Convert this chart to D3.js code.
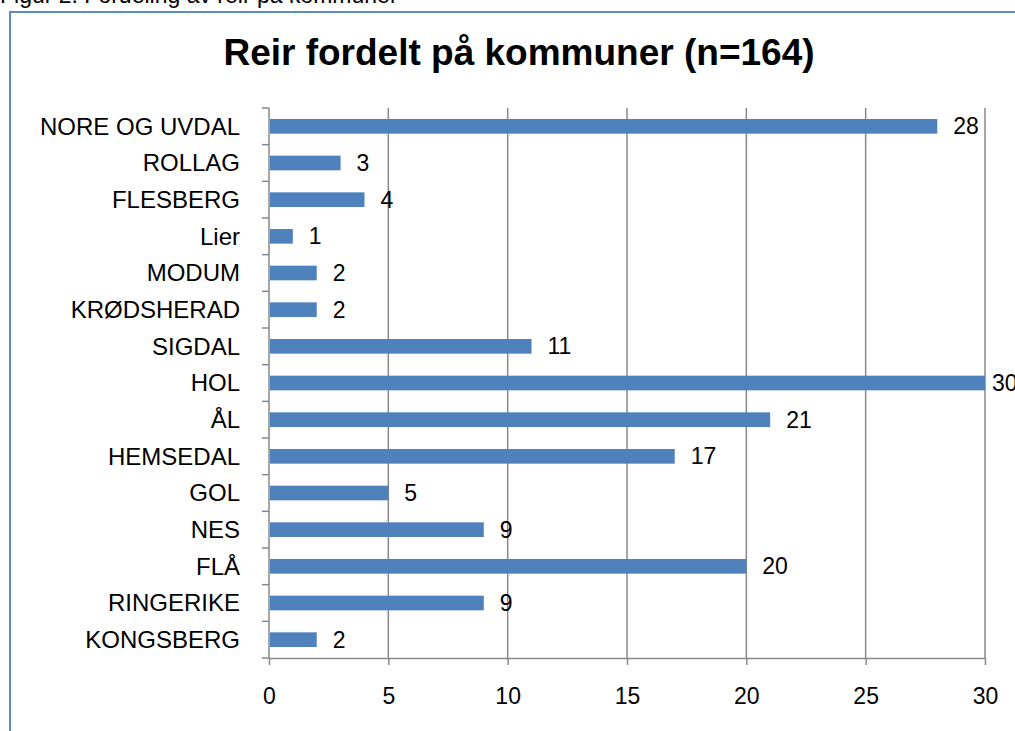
<!DOCTYPE html>
<html>
<head>
<meta charset="utf-8">
<script src="https://cdn.jsdelivr.net/npm/d3@7"></script>
<style>
  body { margin: 0; background: #fff; }
  svg { display: block; font-family: "Liberation Sans", Arial, sans-serif; }
</style>
</head>
<body>
<svg id="svg"></svg>
<script>
/**
 * CONSTANTS AND GLOBALS
 * */
const width = 1015,
  height = 731,
  margin = { top: 108, bottom: 73, left: 269, right: 30 };

const caption = "Figur 2. Fordeling av reir på kommuner";
const title = "Reir fordelt på kommuner (n=164)";

// categories, top to bottom as in the picture
const kommuner = [
  "NORE OG UVDAL", "ROLLAG", "FLESBERG", "Lier", "MODUM", "KRØDSHERAD",
  "SIGDAL", "HOL", "ÅL", "HEMSEDAL", "GOL", "NES", "FLÅ", "RINGERIKE", "KONGSBERG"
];
const antallReir = [28, 3, 4, 1, 2, 2, 11, 30, 21, 17, 5, 9, 20, 9, 2];
const xTicks = [0, 5, 10, 15, 20, 25, 30];

const svg = d3.select("#svg")
  .attr("width", width)
  .attr("height", height);

// caption above the frame (cut off at top in the original)
svg.append("text")
  .attr("x", 0)
  .attr("y", 3)
  .attr("font-size", 23)
  .attr("fill", "#000")
  .text(caption);

// frame
svg.append("rect")
  .attr("x", 10)
  .attr("y", 12)
  .attr("width", 1020)
  .attr("height", 740)
  .attr("fill", "none")
  .attr("stroke", "#5b8bc9")
  .attr("stroke-width", 2);

svg.append("text")
  .attr("x", 519)
  .attr("y", 65)
  .attr("text-anchor", "middle")
  .attr("font-size", 37)
  .attr("font-weight", "bold")
  .text(title);

const xScale = d3.scaleLinear()
  .domain([0, 30])
  .range([margin.left, 985]);

const yScale = d3.scaleBand()
  .domain(kommuner)
  .range([margin.top, height - margin.bottom])
  .paddingInner(0.6)
  .paddingOuter(0.3);

const y0 = height - margin.bottom;
const gridColor = "#888";

// vertical gridlines
svg.append("g")
  .selectAll("line")
  .data(xTicks.slice(1))
  .join("line")
  .attr("x1", d => xScale(d))
  .attr("x2", d => xScale(d))
  .attr("y1", margin.top)
  .attr("y2", y0)
  .attr("stroke", gridColor)
  .attr("stroke-width", 1.5);

// bottom axis
const xAxis = svg.append("g")
  .attr("transform", `translate(0,${y0})`)
  .call(d3.axisBottom(xScale).tickValues(xTicks).tickSize(7).tickSizeOuter(0).tickPadding(23));
xAxis.select(".domain").attr("stroke", gridColor).attr("stroke-width", 1.5);
xAxis.selectAll(".tick line").attr("stroke", gridColor).attr("stroke-width", 1.5);
xAxis.selectAll("text")
  .attr("font-size", 23)
  .attr("font-family", "Liberation Sans, Arial, sans-serif")
  .attr("fill", "#000");

// left axis: line plus ticks at band boundaries
const step = yScale.step();
const bounds = d3.range(kommuner.length + 1).map(i => margin.top + i * step);
svg.append("line")
  .attr("x1", xScale(0)).attr("x2", xScale(0))
  .attr("y1", margin.top).attr("y2", y0)
  .attr("stroke", gridColor).attr("stroke-width", 1.5);
svg.append("g")
  .selectAll("line")
  .data(bounds)
  .join("line")
  .attr("x1", xScale(0) - 7)
  .attr("x2", xScale(0))
  .attr("y1", d => d)
  .attr("y2", d => d)
  .attr("stroke", gridColor)
  .attr("stroke-width", 1.5);

// category labels
svg.append("g")
  .selectAll("text")
  .data(kommuner)
  .join("text")
  .attr("x", 240)
  .attr("y", d => yScale(d) + yScale.bandwidth() / 2)
  .attr("dy", "0.35em")
  .attr("text-anchor", "end")
  .attr("font-size", 24)
  .text(d => d);

// bars
const data = kommuner.map((k, i) => ({ name: k, value: antallReir[i] }));

svg.append("g")
  .selectAll("rect")
  .data(data)
  .join("rect")
  .attr("x", xScale(0) + 1)
  .attr("y", d => yScale(d.name))
  .attr("width", d => xScale(d.value) - xScale(0) - 1)
  .attr("height", yScale.bandwidth())
  .attr("fill", "#4f81bd");

// value labels (the one at the far right is pushed in a bit, like the original)
svg.append("g")
  .selectAll("text")
  .data(data)
  .join("text")
  .attr("x", d => Math.min(xScale(d.value) + 16, 992))
  .attr("y", d => yScale(d.name) + yScale.bandwidth() / 2)
  .attr("dy", "0.35em")
  .attr("font-size", 23)
  .text(d => d.value);
</script>
</body>
</html>
